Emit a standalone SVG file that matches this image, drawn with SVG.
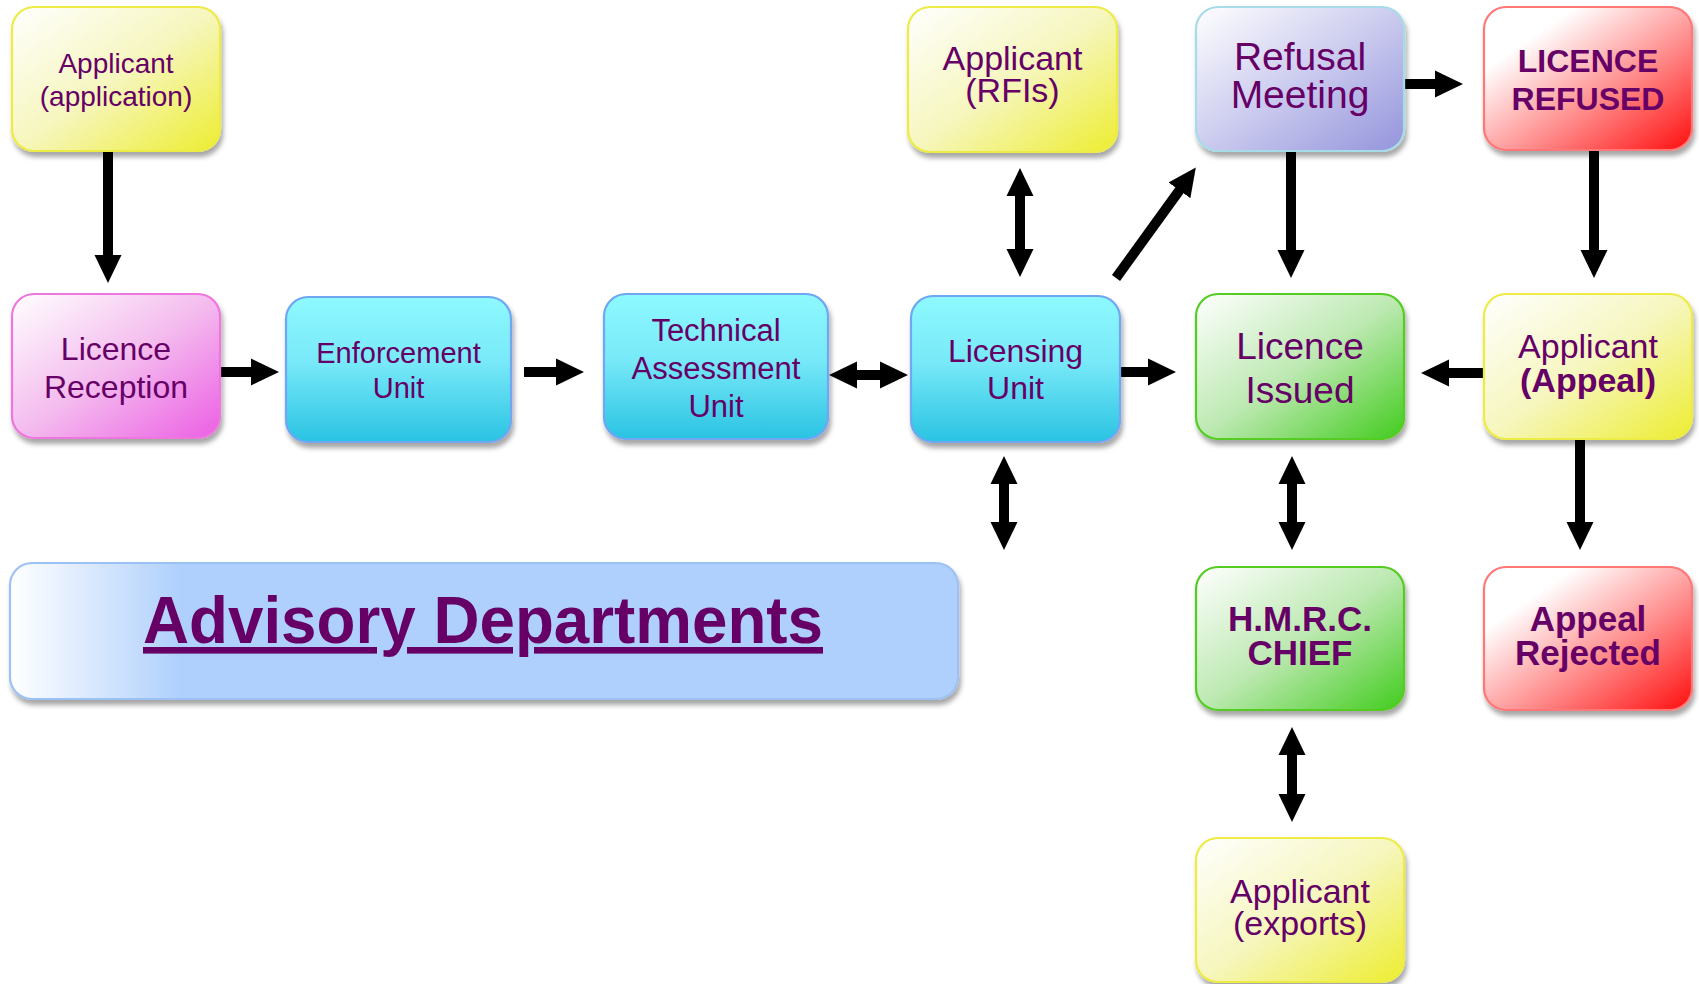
<svg xmlns="http://www.w3.org/2000/svg" width="1699" height="984" viewBox="0 0 1699 984">
<defs>
<style>
.t{font-family:"Liberation Sans",Arial,sans-serif;fill:#660066;text-anchor:middle}
.b{font-weight:bold}
.box{stroke-width:2.2}
.y{fill:url(#gY);stroke:#ECEC44}
.p{fill:url(#gP);stroke:#EE77DD}
.c{fill:url(#gC);stroke:#6FA6F2}
.l{fill:url(#gL);stroke:#A6DCE8}
.r{fill:url(#gR);stroke:#FF7777}
.g{fill:url(#gG);stroke:#55CC22}
.a{fill:url(#gA);stroke:#9CC2F4}
.con line{stroke:#000;stroke-width:10;fill:none}
</style>
<linearGradient id="gY" x1="0" y1="0" x2="1" y2="1"><stop offset="0" stop-color="#FFFFFF"/><stop offset="0.5" stop-color="#F6F6BE"/><stop offset="1" stop-color="#EDED30"/></linearGradient>
<linearGradient id="gP" x1="0" y1="0" x2="1" y2="1"><stop offset="0" stop-color="#FFFFFF"/><stop offset="0.5" stop-color="#F4BCEE"/><stop offset="1" stop-color="#EC5EE4"/></linearGradient>
<linearGradient id="gC" x1="0" y1="0" x2="0" y2="1"><stop offset="0" stop-color="#8EF9FF"/><stop offset="0.45" stop-color="#78E9F8"/><stop offset="1" stop-color="#2AC3E3"/></linearGradient>
<linearGradient id="gL" x1="0" y1="0" x2="1" y2="1"><stop offset="0" stop-color="#FFFFFF"/><stop offset="0.5" stop-color="#CBCBEF"/><stop offset="1" stop-color="#9494DC"/></linearGradient>
<linearGradient id="gR" x1="0" y1="0" x2="1" y2="1"><stop offset="0.22" stop-color="#FFFFFF"/><stop offset="0.6" stop-color="#FF8C8C"/><stop offset="1" stop-color="#FF0E0E"/></linearGradient>
<linearGradient id="gG" x1="0" y1="0" x2="1" y2="1"><stop offset="0" stop-color="#FFFFFF"/><stop offset="0.5" stop-color="#BDE9B2"/><stop offset="1" stop-color="#42CC1E"/></linearGradient>
<linearGradient id="gA" x1="0" y1="0" x2="1" y2="0"><stop offset="0" stop-color="#FFFFFF"/><stop offset="0.18" stop-color="#AFD0FC"/><stop offset="1" stop-color="#AFD0FC"/></linearGradient>
<filter id="sh" x="-10%" y="-10%" width="130%" height="130%"><feDropShadow dx="2" dy="5" stdDeviation="2.5" flood-color="#000" flood-opacity="0.35"/></filter>
<marker id="ah" markerUnits="userSpaceOnUse" markerWidth="30" markerHeight="28" viewBox="0 0 30 28" refX="1" refY="14" orient="auto-start-reverse"><path d="M0,0.5 L28,14 L0,27.5 z" fill="#000"/></marker>
</defs>
<rect width="1699" height="984" fill="#FFFFFF"/>

<g id="connectors" class="con">
<line x1="108" y1="151" x2="108" y2="256" marker-end="url(#ah)"/>
<line x1="220" y1="372" x2="252" y2="372" marker-end="url(#ah)"/>
<line x1="524" y1="372" x2="557" y2="372" marker-end="url(#ah)"/>
<line x1="856" y1="375" x2="881" y2="375" marker-start="url(#ah)" marker-end="url(#ah)"/>
<line x1="1020" y1="195" x2="1020" y2="250" marker-start="url(#ah)" marker-end="url(#ah)"/>
<line x1="1116" y1="278" x2="1180" y2="189.5" marker-end="url(#ah)"/>
<line x1="1120" y1="372" x2="1149" y2="372" marker-end="url(#ah)"/>
<line x1="1404" y1="84" x2="1436" y2="84" marker-end="url(#ah)"/>
<line x1="1291" y1="151" x2="1291" y2="251" marker-end="url(#ah)"/>
<line x1="1594" y1="150" x2="1594" y2="251" marker-end="url(#ah)"/>
<line x1="1484" y1="373" x2="1448" y2="373" marker-end="url(#ah)"/>
<line x1="1004" y1="483" x2="1004" y2="523" marker-start="url(#ah)" marker-end="url(#ah)"/>
<line x1="1292" y1="483" x2="1292" y2="523" marker-start="url(#ah)" marker-end="url(#ah)"/>
<line x1="1580" y1="439" x2="1580" y2="523" marker-end="url(#ah)"/>
<line x1="1292" y1="754" x2="1292" y2="795" marker-start="url(#ah)" marker-end="url(#ah)"/>
</g>

<g id="applicant-application">
<rect class="box y" x="12" y="7" width="208" height="144" rx="22" filter="url(#sh)"/>
<text class="t" font-size="28"><tspan x="116" y="73">Applicant</tspan><tspan x="116" y="106">(application)</tspan></text>
</g>
<g id="licence-reception">
<rect class="box p" x="12" y="294" width="208" height="144" rx="22" filter="url(#sh)"/>
<text class="t" font-size="32"><tspan x="116" y="360">Licence</tspan><tspan x="116" y="398">Reception</tspan></text>
</g>
<g id="enforcement-unit">
<rect class="box c" x="286" y="297" width="225" height="145" rx="22" filter="url(#sh)"/>
<text class="t" font-size="29"><tspan x="398.5" y="363">Enforcement</tspan><tspan x="398.5" y="398">Unit</tspan></text>
</g>
<g id="technical-assessment-unit">
<rect class="box c" x="604" y="294" width="224" height="145" rx="22" filter="url(#sh)"/>
<text class="t" font-size="31"><tspan x="716" y="341">Technical</tspan><tspan x="716" y="379">Assessment</tspan><tspan x="716" y="417">Unit</tspan></text>
</g>
<g id="licensing-unit">
<rect class="box c" x="911" y="296" width="209" height="146" rx="22" filter="url(#sh)"/>
<text class="t" font-size="32"><tspan x="1015.5" y="362">Licensing</tspan><tspan x="1015.5" y="399">Unit</tspan></text>
</g>
<g id="applicant-rfis">
<rect class="box y" x="908" y="7" width="209" height="145" rx="22" filter="url(#sh)"/>
<text class="t" font-size="34"><tspan x="1012.5" y="70">Applicant</tspan><tspan x="1012.5" y="102">(RFIs)</tspan></text>
</g>
<g id="refusal-meeting">
<rect class="box l" x="1196" y="7" width="208" height="144" rx="22" filter="url(#sh)"/>
<text class="t" font-size="39"><tspan x="1300" y="70">Refusal</tspan><tspan x="1300" y="108">Meeting</tspan></text>
</g>
<g id="licence-refused">
<rect class="box r" x="1484" y="7" width="208" height="143" rx="22" filter="url(#sh)"/>
<text class="t b" font-size="32"><tspan x="1588" y="72">LICENCE</tspan><tspan x="1588" y="110">REFUSED</tspan></text>
</g>
<g id="licence-issued">
<rect class="box g" x="1196" y="294" width="208" height="145" rx="22" filter="url(#sh)"/>
<text class="t" font-size="37"><tspan x="1300" y="359">Licence</tspan><tspan x="1300" y="403">Issued</tspan></text>
</g>
<g id="applicant-appeal">
<rect class="box y" x="1484" y="294" width="208" height="145" rx="22" filter="url(#sh)"/>
<text class="t" font-size="34"><tspan x="1588" y="358">Applicant</tspan><tspan class="b" x="1588" y="392">(Appeal)</tspan></text>
</g>
<g id="hmrc-chief">
<rect class="box g" x="1196" y="567" width="208" height="143" rx="22" filter="url(#sh)"/>
<text class="t b" font-size="35"><tspan x="1300" y="631">H.M.R.C.</tspan><tspan x="1300" y="665">CHIEF</tspan></text>
</g>
<g id="appeal-rejected">
<rect class="box r" x="1484" y="567" width="208" height="143" rx="22" filter="url(#sh)"/>
<text class="t b" font-size="35"><tspan x="1588" y="631">Appeal</tspan><tspan x="1588" y="665">Rejected</tspan></text>
</g>
<g id="applicant-exports">
<rect class="box y" x="1196" y="838" width="208" height="144" rx="22" filter="url(#sh)"/>
<text class="t" font-size="34"><tspan x="1300" y="903">Applicant</tspan><tspan x="1300" y="935">(exports)</tspan></text>
</g>
<g id="advisory-departments">
<rect class="box a" x="10" y="563" width="948" height="136" rx="22" filter="url(#sh)"/>
<text class="t b" font-size="66" x="143" y="643" style="text-anchor:start" text-decoration="underline" textLength="680" lengthAdjust="spacingAndGlyphs">Advisory Departments</text>
</g>
</svg>
